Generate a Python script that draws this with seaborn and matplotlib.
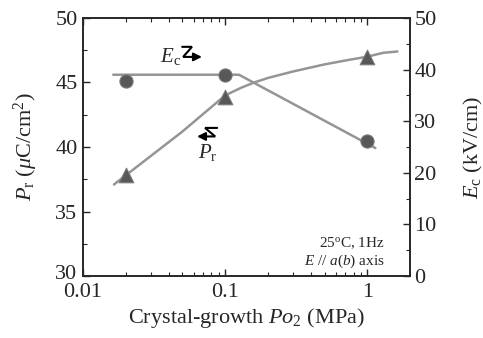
import numpy as np
import pandas as pd
import matplotlib
matplotlib.use("Agg")
import matplotlib.pyplot as plt
import matplotlib.ticker as mticker
import matplotlib.transforms as mtransforms
import seaborn as sns

sns.set_style("ticks")
plt.rcParams['font.family'] = ['Liberation Serif', 'DejaVu Serif']
plt.rcParams['mathtext.fontset'] = 'custom'
plt.rcParams['mathtext.rm'] = 'Liberation Serif'
plt.rcParams['mathtext.it'] = 'Liberation Serif:italic'
plt.rcParams['mathtext.bf'] = 'Liberation Serif:bold'

# measured points
po2 = [0.02, 0.1, 1.0]
pr = [37.8, 43.9, 46.95]
ec = [37.7, 38.9, 26.2]

# guide lines drawn through the data
pr_fit_x = [0.0165, 0.05, 0.1, 0.13, 0.16, 0.2, 0.3, 0.5, 0.7, 1.0, 1.3, 1.63]
pr_fit_y = [37.1, 41.2, 44.0, 44.6, 45.0, 45.35, 45.85, 46.4, 46.7, 47.0, 47.3, 47.4]
ec_fit_x = [0.0163, 0.125, 1.14]
ec_fit_y = [39.0, 39.0, 24.8]

xticks = [0.01, 0.1, 1]
xtick_labels = ['0.01', '0.1', '1']

pts = pd.DataFrame({'po2': po2, 'pr': pr, 'ec': ec})
pr_line = pd.DataFrame({'x': pr_fit_x, 'y': pr_fit_y})
ec_line = pd.DataFrame({'x': ec_fit_x, 'y': ec_fit_y})

fig = plt.figure(figsize=(4.83, 3.38), dpi=100)
ax = fig.add_axes([0.172, 0.183, 0.677, 0.764])
ax2 = ax.twinx()

line_col = '#959595'
mark_col = '#585858'

sns.lineplot(data=pr_line, x='x', y='y', ax=ax, color=line_col, lw=1.8, sort=False)
sns.scatterplot(data=pts, x='po2', y='pr', ax=ax, marker='^', s=110,
                color=mark_col, edgecolor='#7a7a7a', linewidth=0.8, zorder=5)
sns.lineplot(data=ec_line, x='x', y='y', ax=ax2, color=line_col, lw=1.8, sort=False)
sns.scatterplot(data=pts, x='po2', y='ec', ax=ax2, marker='o', s=90,
                color=mark_col, edgecolor='#7a7a7a', linewidth=0.8, zorder=5)

ax.set_xscale('log')
ax.set_xlim(0.01, 2.0)
ax.set_ylim(30, 50)
ax2.set_ylim(0, 50)
ax.set_xticks(xticks)
ax.xaxis.set_major_formatter(mticker.FixedFormatter(xtick_labels))
ax.xaxis.set_minor_formatter(mticker.NullFormatter())
ax.set_yticks([30, 35, 40, 45, 50])
ax.yaxis.set_minor_locator(mticker.MultipleLocator(2.5))
ax2.set_yticks([0, 10, 20, 30, 40, 50])
ax2.yaxis.set_minor_locator(mticker.MultipleLocator(5))

ax.tick_params(axis='x', which='both', direction='in', top=True, labelsize=16, pad=5)
ax.tick_params(axis='y', which='both', direction='in', labelsize=16, pad=4)
ax.tick_params(which='major', length=5, width=1)
ax.tick_params(which='minor', length=3, width=0.8)
ax2.tick_params(axis='y', which='both', direction='in', labelsize=16, pad=3)
ax2.tick_params(which='major', length=5, width=1)
ax2.tick_params(which='minor', length=3, width=0.8)
for a in (ax, ax2):
    for s in a.spines.values():
        s.set_linewidth(1.2)
        s.set_visible(True)

ax.set_xlabel('Crystal-growth $Po_{2}$ (MPa)', fontsize=16, labelpad=3)
ax.set_ylabel(r'$P_{\mathrm{r}}$ ($\mu$C/cm$^{2}$)', fontsize=16, labelpad=11)
ax2.set_ylabel(r'$E_{\mathrm{c}}$ (kV/cm)', fontsize=16, labelpad=18)

# curve labels with zigzag arrows
ax.text(0.235, 0.83, r'$E_{\mathrm{c}}$', transform=ax.transAxes, fontsize=15)
ax.plot([0.303, 0.333, 0.306, 0.345], [0.888, 0.888, 0.849, 0.849],
        color='black', lw=1.5, transform=ax.transAxes, solid_joinstyle='miter')
ax.annotate('', xy=(0.372, 0.849), xytext=(0.335, 0.849), xycoords='axes fraction',
            arrowprops=dict(arrowstyle='-|>', color='black', lw=1.5, mutation_scale=12))

ax.text(0.352, 0.457, r'$P_{\mathrm{r}}$', transform=ax.transAxes, fontsize=15)
ax.plot([0.410, 0.373, 0.404, 0.365], [0.574, 0.574, 0.541, 0.541],
        color='black', lw=1.5, transform=ax.transAxes, solid_joinstyle='miter')
ax.annotate('', xy=(0.340, 0.541), xytext=(0.375, 0.541), xycoords='axes fraction',
            arrowprops=dict(arrowstyle='-|>', color='black', lw=1.5, mutation_scale=12))

ax.text(0.924, 0.112, r'25$^{\mathrm{o}}$C, 1Hz', transform=ax.transAxes,
        fontsize=11, ha='right', va='baseline')
ax.text(0.924, 0.043, r'$E$ // $a$($b$) axis', transform=ax.transAxes,
        fontsize=11, ha='right', va='baseline')

# nudge the lowest left label up so it clears "0.01"
fig.canvas.draw()
lab30 = ax.yaxis.get_major_ticks()[0].label1
lab30.set_transform(lab30.get_transform() +
                    mtransforms.ScaledTranslation(0, 3 / 72, fig.dpi_scale_trans))

fig.savefig('out.png', dpi=100)
